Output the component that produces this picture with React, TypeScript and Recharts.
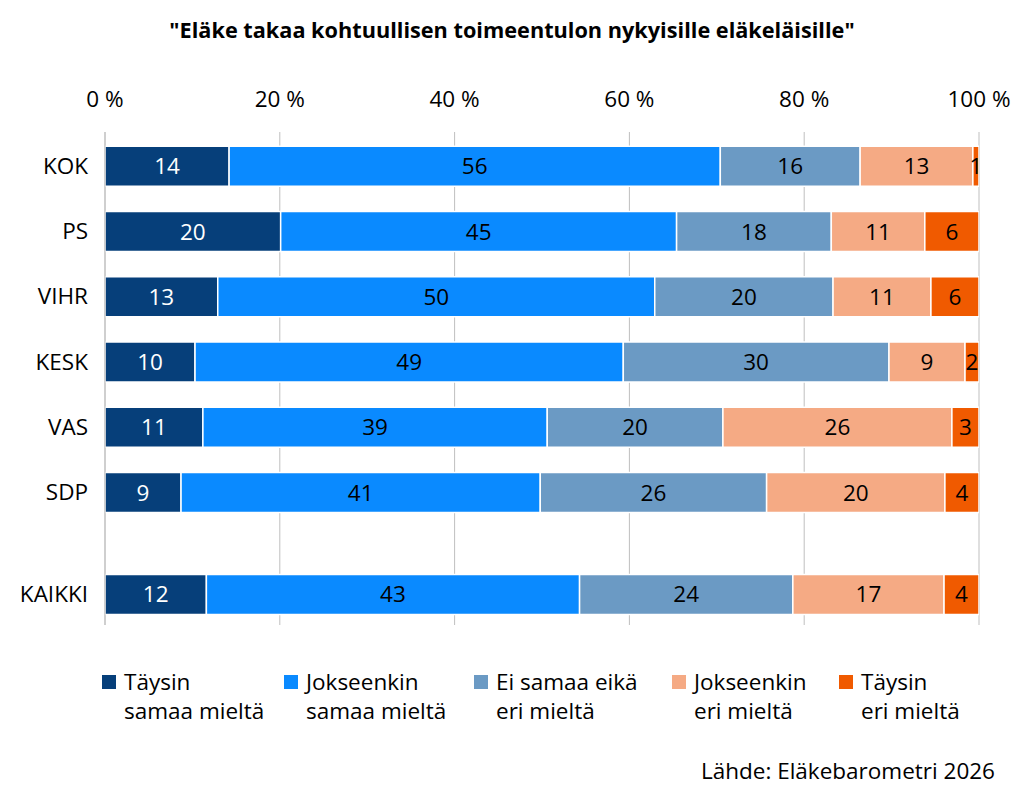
import React from 'react';
import {
  BarChart,
  Bar,
  XAxis,
  YAxis,
  CartesianGrid,
  LabelList,
} from 'recharts';

const parties = ['KOK', 'PS', 'VIHR', 'KESK', 'VAS', 'SDP', 'KAIKKI'];
// row position on the category axis (KAIKKI sits apart from the parties)
const rowPos = [0, 1, 2, 3, 4, 5, 6.56];

const taysinSamaa = [14.2, 20.1, 12.9, 10.3, 11.2, 8.7, 11.6];
const jokseenkinSamaa = [56.2, 45.3, 50.0, 49.0, 39.4, 41.1, 42.7];
const eiSamaaEika = [16.0, 17.7, 20.4, 30.4, 20.1, 25.9, 24.4];
const jokseenkinEri = [12.9, 10.7, 11.2, 8.7, 26.2, 20.4, 17.3];
const taysinEri = [0.7, 6.2, 5.5, 1.6, 3.1, 3.9, 4.0];

const xTicks = [0, 20, 40, 60, 80, 100];

const seriesKeys = ['ts', 'js', 'ei', 'je', 'te'];
const seriesNames = [
  ['Täysin', 'samaa mieltä'],
  ['Jokseenkin', 'samaa mieltä'],
  ['Ei samaa eikä', 'eri mieltä'],
  ['Jokseenkin', 'eri mieltä'],
  ['Täysin', 'eri mieltä'],
];
const colors = ['#063f7a', '#0a8aff', '#6b9ac4', '#f5aa84', '#f05a00'];
const labelColors = ['#ffffff', '#000000', '#000000', '#000000', '#000000'];

const data = parties.map((name, i) => ({
  name,
  row: rowPos[i],
  ts: taysinSamaa[i],
  js: jokseenkinSamaa[i],
  ei: eiSamaaEika[i],
  je: jokseenkinEri[i],
  te: taysinEri[i],
}));

const FONT = '"Open Sans", Lato, sans-serif';
const FS = 22.5;
const legendLeft = [102, 284, 474, 672, 839];

export default function App() {
  return (
    <div
      style={{
        position: 'absolute',
        left: 0,
        top: 0,
        width: 1024,
        height: 801,
        background: '#fff',
        fontFamily: FONT,
      }}
    >
      <div
        style={{
          position: 'absolute',
          top: 15,
          left: 0,
          width: 1024,
          textAlign: 'center',
          fontWeight: 700,
          fontSize: 21.7,
          color: '#000',
        }}
      >
        "Eläke takaa kohtuullisen toimeentulon nykyisille eläkeläisille"
      </div>

      <BarChart
        width={1024}
        height={801}
        layout="vertical"
        data={data}
        margin={{ top: 92, right: 45, bottom: 176, left: 10 }}
        style={{ fontFamily: FONT }}
      >
        <CartesianGrid horizontal={false} stroke="#bfbfbf" />
        <XAxis
          type="number"
          orientation="top"
          domain={[0, 100]}
          ticks={xTicks}
          tickFormatter={(v) => `${v} %`}
          axisLine={false}
          tickLine={false}
          tickSize={0}
          tickMargin={25}
          height={40}
          tick={{ fontSize: FS, fill: '#000' }}
          allowDataOverflow
        />
        <YAxis
          type="number"
          dataKey="row"
          domain={[-0.52, 7.035]}
          ticks={rowPos}
          tickFormatter={(v) => parties[rowPos.indexOf(v)] ?? ''}
          axisLine={{ stroke: '#bfbfbf' }}
          tickLine={false}
          tickSize={0}
          tickMargin={17}
          width={95}
          tick={{ fontSize: FS, fill: '#000' }}
          allowDataOverflow
        />
        {seriesKeys.map((key, i) => (
          <Bar
            key={key}
            dataKey={key}
            stackId="a"
            fill={colors[i]}
            stroke="#ffffff"
            strokeWidth={1.5}
            barSize={40}
            isAnimationActive={false}
          >
            <LabelList
              dataKey={key}
              position="center"
              formatter={(v) => Math.round(Number(v))}
              fill={labelColors[i]}
              fontSize={FS}
            />
          </Bar>
        ))}
      </BarChart>

      {seriesNames.map((lines, i) => (
        <div
          key={i}
          style={{
            position: 'absolute',
            left: legendLeft[i],
            top: 667,
            display: 'flex',
            alignItems: 'flex-start',
            fontSize: FS,
            lineHeight: '29px',
            color: '#000',
          }}
        >
          <div
            style={{
              width: 14,
              height: 14,
              background: colors[i],
              marginTop: 8,
              marginRight: 8,
            }}
          />
          <div>
            {lines[0]}
            <br />
            {lines[1]}
          </div>
        </div>
      ))}

      <div
        style={{
          position: 'absolute',
          right: 29,
          top: 755,
          fontSize: FS,
          color: '#000',
        }}
      >
        Lähde: Eläkebarometri 2026
      </div>
    </div>
  );
}
